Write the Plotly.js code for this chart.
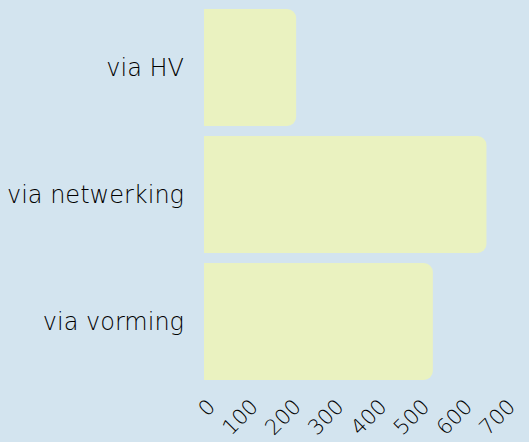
<!DOCTYPE html>
<html>
<head>
<meta charset="utf-8">
<script src="https://cdn.plot.ly/plotly-3.0.1.min.js"></script>
<style>html,body{margin:0;padding:0;background:#d3e4ef;}#chart{width:529px;height:442px;}</style>
</head>
<body>
<div id="chart"></div>
<script>
const categories = ["via HV", "via netwerking", "via vorming"];
const values = [215, 659, 534];
const xTicks = [0, 100, 200, 300, 400, 500, 600, 700];

const trace = {
  type: "bar",
  orientation: "h",
  y: categories,
  x: values,
  marker: { color: "#eaf2c0", cornerradius: 9, line: { width: 0 } },
  hoverinfo: "none"
};

const fam = "'DejaVu Sans', 'Noto Sans', sans-serif";

const layout = {
  width: 529,
  height: 442,
  paper_bgcolor: "#d3e4ef",
  plot_bgcolor: "#d3e4ef",
  margin: { l: 204, r: 25, t: 4, b: 57, pad: 0 },
  bargap: 0.08,
  showlegend: false,
  font: { family: fam, size: 20, color: "#000000", weight: 300 },
  xaxis: {
    range: [0, 700],
    tickvals: xTicks,
    ticktext: xTicks.map(String),
    tickangle: -45,
    showgrid: false,
    zeroline: false,
    showline: false,
    ticks: "",
    ticklabelstandoff: 4,
    ticklabelshift: 5,
    tickfont: { family: fam, size: 21, color: "#000000", weight: 300 }
  },
  yaxis: {
    autorange: "reversed",
    showgrid: false,
    zeroline: false,
    showline: false,
    ticks: "",
    ticklabelstandoff: 19,
    tickfont: { family: fam, size: 24, color: "#000000", weight: 300 }
  }
};

Plotly.newPlot("chart", [trace], layout, { staticPlot: true, displayModeBar: false });
</script>
</body>
</html>
